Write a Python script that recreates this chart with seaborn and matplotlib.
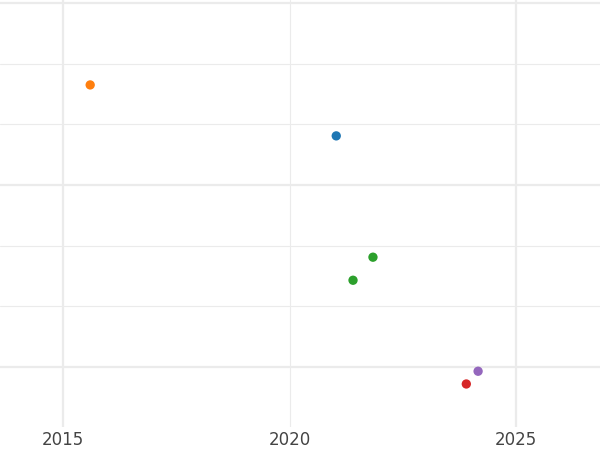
import seaborn as sns
import matplotlib.pyplot as plt
import pandas as pd
from matplotlib.ticker import MultipleLocator, FixedLocator

# data
groups = ['A', 'B', 'C', 'C', 'D', 'E']
years = [2021.03, 2015.60, 2021.84, 2021.40, 2023.90, 2024.16]
values = [3.81, 4.65, 1.81, 1.43, -0.28, -0.07]
group_order = ['A', 'B', 'C', 'D', 'E']
colors = ['#1f77b4', '#ff7f0e', '#2ca02c', '#d62728', '#9467bd']

df = pd.DataFrame({'year': years, 'value': values, 'group': groups})

sns.set_style('white')
fig = plt.figure(figsize=(6, 4.5), dpi=100)
ax = fig.add_axes([0, 0.051, 1, 0.949])

sns.scatterplot(data=df, x='year', y='value', hue='group', hue_order=group_order,
                palette=colors, s=45, linewidth=0, legend=False, ax=ax, zorder=3)

ax.set_xlim(2013.61, 2026.85)
ax.set_ylim(-0.99, 6.05)

ax.yaxis.set_major_locator(MultipleLocator(3))
ax.yaxis.set_minor_locator(MultipleLocator(1))

# 2020 label sits on the minor tick
ax.set_xticks([2015, 2025])
ax.set_xticklabels(['2015', '2025'])
ax.set_xticks([2020], minor=True)
ax.set_xticklabels(['2020'], minor=True)

ax.grid(which='major', color='#ebebeb', linewidth=1.6)
ax.grid(which='minor', color='#ebebeb', linewidth=0.8)
ax.set_axisbelow(True)

ax.tick_params(axis='x', which='both', length=0, pad=3, labelsize=12, labelcolor='#444444')
ax.tick_params(axis='y', which='both', length=0, labelleft=False)

ax.set_xlabel('')
ax.set_ylabel('')
for s in ax.spines.values():
    s.set_visible(False)

fig.savefig('out.png', dpi=100)
